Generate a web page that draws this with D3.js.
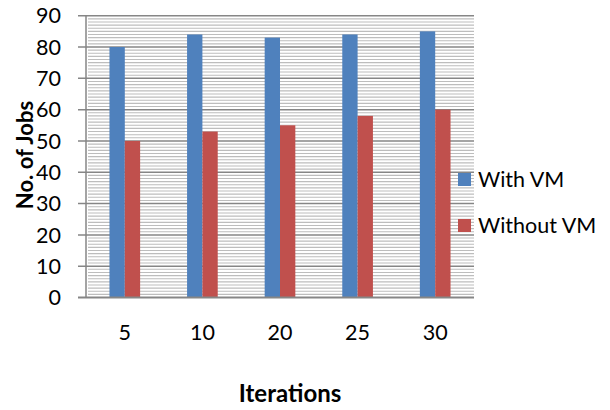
<!DOCTYPE html>
<html>
<head>
<meta charset="utf-8">
<script src="https://cdn.jsdelivr.net/npm/d3@7"></script>
<style>
  html, body { margin: 0; padding: 0; background: #fff; }
  svg { display: block; font-family: Lato, "Open Sans", sans-serif; }
</style>
</head>
<body>
<svg id="chart" width="610" height="410"></svg>
<script>
// Jobs completed per iteration count, with and without VM
const iterations = ["5", "10", "20", "25", "30"];
const withVM = [80, 84, 83, 84, 85];
const withoutVM = [50, 53, 55, 58, 60];
const seriesNames = ["With VM", "Without VM"];
const seriesColors = ["#4f81bd", "#c0504d"];
const yTicks = [0, 10, 20, 30, 40, 50, 60, 70, 80, 90];

const svg = d3.select("#chart");
const plot = { left: 86, right: 474, top: 15.7, bottom: 297.5 };

const x = d3.scaleBand().domain(iterations).range([plot.left, plot.right]).paddingInner(0).paddingOuter(0);
const groupW = x.bandwidth() * 0.395;
const xs = d3.scaleBand().domain(seriesNames).range([-groupW / 2, groupW / 2]);
const y = d3.scaleLinear().domain([0, 90]).range([plot.bottom, plot.top]);

// minor gridlines, one per unit
const minor = d3.range(1, 90).filter(v => v % 10 !== 0);
svg.append("g").selectAll("line").data(minor).join("line")
  .attr("x1", plot.left + 2).attr("x2", plot.right)
  .attr("y1", d => y(d)).attr("y2", d => y(d))
  .attr("stroke", "#bdbdbd").attr("stroke-width", 1.1);

// major gridlines with outer tick marks
svg.append("g").selectAll("line").data(yTicks.filter(v => v > 0)).join("line")
  .attr("x1", 78).attr("x2", plot.right)
  .attr("y1", d => y(d)).attr("y2", d => y(d))
  .attr("stroke", "#868686").attr("stroke-width", 1.5);

// y axis line
svg.append("line")
  .attr("x1", plot.left).attr("x2", plot.left)
  .attr("y1", plot.top).attr("y2", plot.bottom)
  .attr("stroke", "#868686").attr("stroke-width", 1.5);

// bars
const rows = iterations.map((c, i) => ({ cat: c, vals: [withVM[i], withoutVM[i]] }));
const groups = svg.append("g").selectAll("g").data(rows).join("g")
  .attr("transform", d => `translate(${x(d.cat) + x.bandwidth() / 2},0)`);
groups.selectAll("rect").data(d => d.vals.map((v, j) => ({ v, s: seriesNames[j], c: seriesColors[j] })))
  .join("rect")
  .attr("x", d => xs(d.s))
  .attr("width", xs.bandwidth())
  .attr("y", d => y(d.v))
  .attr("height", d => y(0) - y(d.v))
  .attr("fill", d => d.c);

// x axis line
svg.append("line")
  .attr("x1", 78).attr("x2", plot.right)
  .attr("y1", plot.bottom).attr("y2", plot.bottom)
  .attr("stroke", "#868686").attr("stroke-width", 2);

// y tick labels
svg.append("g").selectAll("text").data(yTicks).join("text")
  .attr("x", 61).attr("y", d => y(d))
  .attr("dy", "0.36em")
  .attr("text-anchor", "end")
  .attr("font-size", 21.5).attr("fill", "#000")
  .text(d => d);

// x category labels
svg.append("g").selectAll("text").data(iterations).join("text")
  .attr("x", d => x(d) + x.bandwidth() / 2).attr("y", 340)
  .attr("text-anchor", "middle")
  .attr("font-size", 21.5).attr("fill", "#000")
  .text(d => d);

// axis titles
svg.append("text")
  .attr("x", 290).attr("y", 402)
  .attr("text-anchor", "middle")
  .attr("font-size", 24).attr("font-weight", "bold")
  .text("Iterations");
svg.append("text")
  .attr("transform", "translate(33,155) rotate(-90)")
  .attr("text-anchor", "middle")
  .attr("font-size", 22).attr("font-weight", "bold")
  .text("No. of Jobs");

// legend
const legend = svg.append("g").selectAll("g").data(seriesNames).join("g")
  .attr("transform", (d, i) => `translate(458,${179 + i * 46})`);
legend.append("rect")
  .attr("x", 0).attr("y", -6).attr("width", 13).attr("height", 13)
  .attr("fill", (d, i) => seriesColors[i]);
legend.append("text")
  .attr("x", 20).attr("y", 0).attr("dy", "0.36em")
  .attr("font-size", 21.5).attr("fill", "#000")
  .text(d => d);
</script>
</body>
</html>
